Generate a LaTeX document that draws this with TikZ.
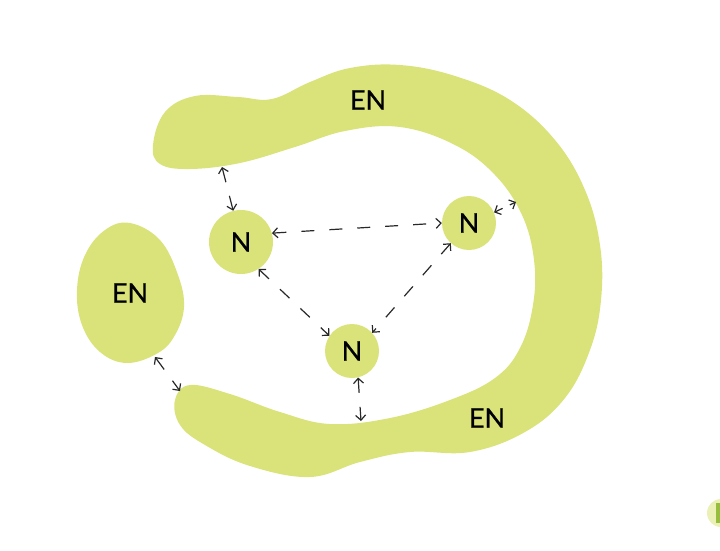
\documentclass[tikz,border=0pt]{standalone}
\usepackage{fontspec}
\setmainfont{Lato}
\usetikzlibrary{arrows.meta,positioning}
\definecolor{limegreen}{RGB}{217,227,122}
\definecolor{darkgray}{RGB}{40,40,40}
\definecolor{logogreen}{RGB}{150,190,60}

\begin{document}
\begin{tikzpicture}[x=1pt, y=-1pt,
        blob/.style={fill=limegreen, draw=none},
        nd/.style={circle, fill=limegreen, inner sep=0pt, font=\fontsize{27}{30}\selectfont\addfontfeature{FakeBold=0.7}},
        tag/.style={inner sep=0pt, font=\fontsize{27}{30}\selectfont\addfontfeature{FakeBold=0.7}},
        link/.style={{Straight Barb[length=5pt,width=10pt]}-{Straight Barb[length=5pt,width=10pt]}, line width=1.2pt, draw=darkgray, dash pattern=on 13pt off 15pt},
        stub/.style={link, dash pattern=on #1 off #1}]

        \useasboundingbox (0,0) rectangle (720,550);

        % outer environment, C shaped
        \fill[blob] plot[smooth cycle, tension=0.65] coordinates {
            (153,145) (165,112) (195,96) (238,97) (272,99) (310,82) (350,68)
            (400,65) (455,76) (510,100) (555,140) (585,190) (600,245) (601,300)
            (590,350) (565,398) (525,432) (470,452) (410,452) (360,462) (310,477)
            (250,466) (205,445) (180,425) (175,400) (190,385) (230,394) (280,412)
            (330,424) (390,418) (450,400) (495,378) (520,348) (533,305) (534,260)
            (522,215) (495,175) (455,145) (400,127) (345,131) (295,147) (240,163)
            (190,169) (160,164)};
        % left environment
        \fill[blob] plot[smooth cycle, tension=0.65] coordinates {
            (130,223) (160,240) (178,275) (184,307) (175,335) (158,353)
            (127,363) (100,352) (82,325) (77,290) (85,255) (105,230)};

        \node[tag] (ENTOP) at (368,100) {EN};
        \node[tag] (ENLEFT) at (130,293) {EN};
        \node[tag] (ENBOT) at (487,418) {EN};

        \node[nd, minimum size=64pt] (NA) at (241,242) {N};
        \node[nd, minimum size=54pt] (NB) at (469,223) {N};
        \node[nd, minimum size=54pt] (NC) at (352,351) {N};

        \coordinate (TOPDOCK) at (222,167);
        \coordinate (RIGHTDOCK) at (516,202);
        \coordinate (BOTDOCK) at (361,421);
        \coordinate (LEFTDOCK) at (155,357);
        \coordinate (LOWDOCK) at (180,391);

        \draw[link] (NA.16) -- (NB.180);
        \draw[link] (NA.-57) -- (NC.146);
        \draw[link] (NB.228) -- (NC.42);
        \draw[stub=14pt] (NA.104) -- (TOPDOCK);
        \draw[stub=8pt] (NB.23) -- (RIGHTDOCK);
        \draw[stub=14pt] (NC.-77) -- (BOTDOCK);
        \draw[stub=14pt] (LEFTDOCK) -- (LOWDOCK);

        % logo in the corner
        \fill[limegreen!55!white] (721,513) circle (14);
        \fill[logogreen] (716,503) rectangle (720,523);

    \end{tikzpicture}
\end{document}
